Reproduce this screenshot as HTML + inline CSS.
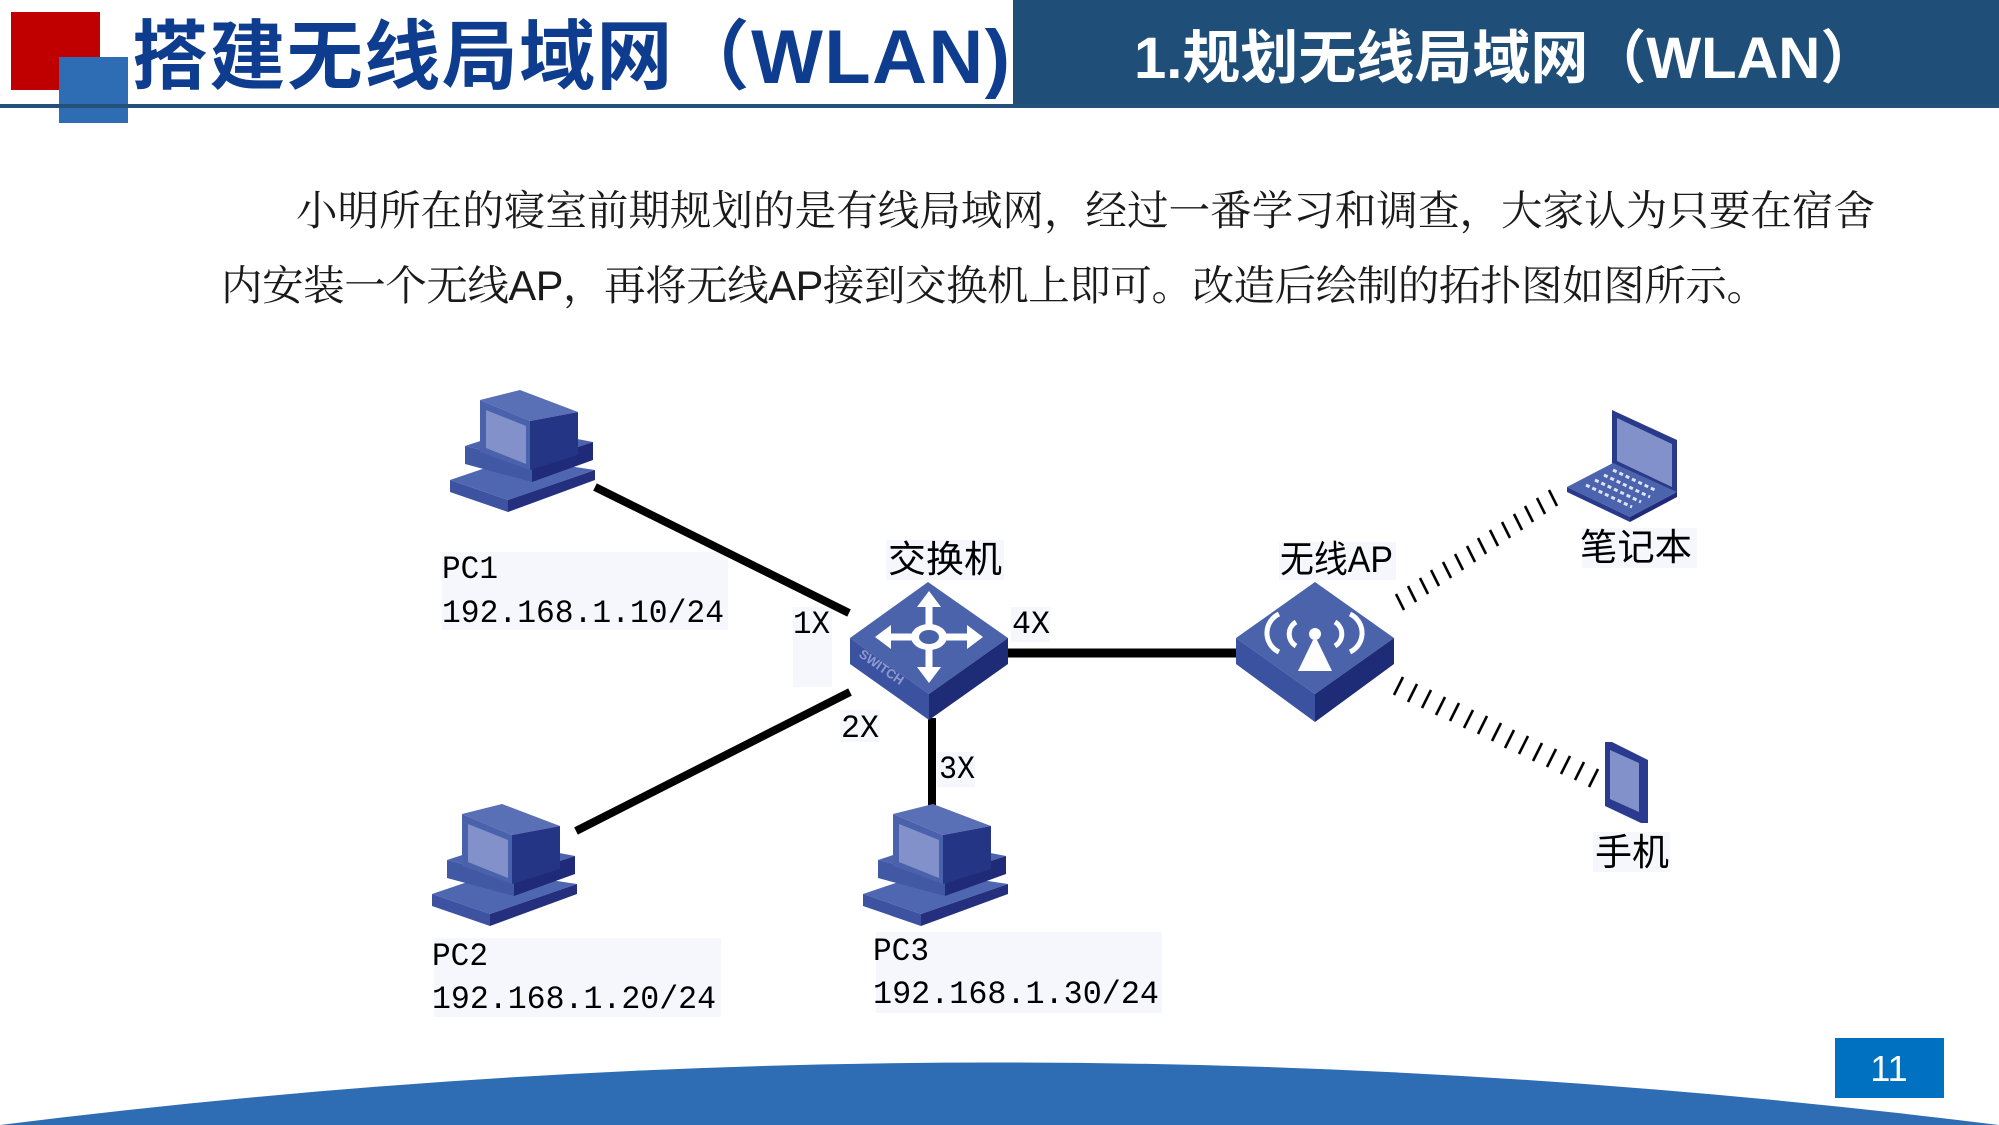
<!DOCTYPE html>
<html>
<head>
<meta charset="utf-8">
<style>
html,body{margin:0;padding:0;background:#fff;}
svg{display:block;}
</style>
</head>
<body>
<svg width="1999" height="1125" viewBox="0 0 1999 1125" xmlns="http://www.w3.org/2000/svg">
<defs>
  <g id="pc">
    <polygon points="0,91 65,69 145,81 58,111" fill="#4F67B0"/>
    <polygon points="0,91 58,111 58,123 0,103" fill="#3D52A0"/>
    <polygon points="58,111 145,81 145,91 58,123" fill="#24307E"/>
    <polygon points="15,57 70,39 143,53 82,73" fill="#4C64AE"/>
    <polygon points="15,57 82,73 82,93 15,75" fill="#4158A5"/>
    <polygon points="82,73 143,53 143,71 82,93" fill="#1F2A78"/>
    <polygon points="30,11 70,1 128,23 80,32" fill="#5A70B6"/>
    <polygon points="30,11 80,32 80,81 30,63" fill="#4A62AC"/>
    <polygon points="36,21 76,37 76,75 36,59" fill="#8391CA"/>
    <polygon points="80,32 128,23 128,66 80,81" fill="#253585"/>
  </g>
</defs>

<rect width="1999" height="1125" fill="#ffffff"/>

<rect x="1013" y="0" width="986" height="106" fill="#1F4E79"/>
<rect x="11" y="12" width="89" height="78" fill="#C00000"/>
<rect x="59" y="57" width="69" height="66" fill="#2E6DB4"/>
<rect x="0" y="104" width="1999" height="4" fill="#24507A"/>

<text x="132" y="83" font-family="'Liberation Sans','Noto Sans CJK SC',sans-serif" font-weight="700" font-size="76" fill="#0E3C8E" textLength="878" lengthAdjust="spacing">搭建无线局域网（WLAN)</text>
<text x="1134" y="78" font-family="'Liberation Sans','Noto Sans CJK SC',sans-serif" font-weight="700" font-size="58" fill="#ffffff">1.规划无线局域网（WLAN）</text>

<text x="296" y="225" font-family="'Liberation Sans','Noto Serif CJK SC',serif" font-size="41.5" fill="#1a1a1a" textLength="1579" lengthAdjust="spacing">小明所在的寝室前期规划的是有线局域网，经过一番学习和调查，大家认为只要在宿舍</text>
<text x="221" y="300" font-family="'Liberation Sans','Noto Serif CJK SC',serif" font-size="41.5" fill="#1a1a1a" textLength="1547" lengthAdjust="spacing">内安装一个无线AP，再将无线AP接到交换机上即可。改造后绘制的拓扑图如图所示。</text>

<g fill="#F5F7FD">
  <rect x="442" y="552" width="286" height="78"/>
  <rect x="434" y="938" width="287" height="79"/>
  <rect x="876" y="932" width="286" height="81"/>
  <rect x="793" y="607" width="39" height="80"/>
  <rect x="840" y="710" width="40" height="32"/>
  <rect x="937" y="752" width="38" height="35"/>
  <rect x="1011" y="607" width="39" height="35"/>
  <rect x="886" y="540" width="118" height="40"/>
  <rect x="1279" y="542" width="117" height="38"/>
  <rect x="1582" y="528" width="115" height="40"/>
  <rect x="1593" y="832" width="77" height="40"/>
</g>

<g stroke="#000" stroke-linecap="butt">
  <line x1="595" y1="487" x2="849" y2="613" stroke-width="8"/>
  <line x1="576" y1="831" x2="850" y2="692" stroke-width="8"/>
  <line x1="932" y1="718" x2="932" y2="808" stroke-width="8"/>
  <line x1="1006" y1="653" x2="1237" y2="653" stroke-width="9"/>
</g>

<use href="#pc" transform="translate(450,389)"/>
<use href="#pc" transform="translate(432,803)"/>
<use href="#pc" transform="translate(863,803)"/>

<g>
  <polygon points="928,582 850,638 929,694 1008,638" fill="#4A63AA"/>
  <polygon points="850,638 929,694 929,720 850,664" fill="#3B52A0"/>
  <polygon points="929,694 1008,638 1008,664 929,720" fill="#1E2B76"/>
  <g stroke="#ffffff" stroke-width="7">
    <line x1="884" y1="637" x2="974" y2="637"/>
    <line x1="929" y1="600" x2="929" y2="674"/>
  </g>
  <g fill="#ffffff">
    <polygon points="917,607 929,591 941,607"/>
    <polygon points="917,667 929,683 941,667"/>
    <polygon points="891,625 875,637 891,649"/>
    <polygon points="967,625 983,637 967,649"/>
    <ellipse cx="929" cy="637" rx="18" ry="13"/>
  </g>
  <ellipse cx="929" cy="637" rx="10" ry="7" fill="#4862AA"/>
  <text x="0" y="0" transform="translate(858,656) rotate(35)" font-family="'Liberation Sans',sans-serif" font-weight="700" font-size="13" fill="#8E9BD0">SWITCH</text>
</g>

<g>
  <polygon points="1315,582 1236,638 1315,694 1394,638" fill="#4A63AA"/>
  <polygon points="1236,638 1315,694 1315,722 1236,664" fill="#3B52A0"/>
  <polygon points="1315,694 1394,638 1394,664 1315,722" fill="#1E2B76"/>
  <g fill="none" stroke="#ffffff" stroke-width="5">
    <path d="M1279,614 A21,21 0 0 0 1279,652"/>
    <path d="M1296,622 A14,14 0 0 0 1296,646"/>
    <path d="M1335,622 A14,14 0 0 1 1335,646"/>
    <path d="M1350,614 A21,21 0 0 1 1350,652"/>
  </g>
  <circle cx="1315" cy="634" r="6" fill="#ffffff"/>
  <polygon points="1298,671 1313,640 1317,640 1332,671" fill="#ffffff"/>
</g>

<g stroke="#000" stroke-width="2.6">
  <line x1="1396" y1="594" x2="1404" y2="610"/>
  <line x1="1408" y1="586" x2="1416" y2="602"/>
  <line x1="1420" y1="578" x2="1428" y2="594"/>
  <line x1="1431" y1="570" x2="1439" y2="586"/>
  <line x1="1443" y1="562" x2="1451" y2="578"/>
  <line x1="1455" y1="554" x2="1463" y2="570"/>
  <line x1="1467" y1="546" x2="1475" y2="562"/>
  <line x1="1478" y1="538" x2="1486" y2="554"/>
  <line x1="1490" y1="530" x2="1498" y2="546"/>
  <line x1="1502" y1="522" x2="1510" y2="538"/>
  <line x1="1514" y1="514" x2="1522" y2="530"/>
  <line x1="1525" y1="506" x2="1533" y2="522"/>
  <line x1="1537" y1="498" x2="1545" y2="514"/>
  <line x1="1549" y1="490" x2="1557" y2="506"/>
</g>

<g stroke="#000" stroke-width="2.6">
  <line x1="1403" y1="677" x2="1394" y2="695"/>
  <line x1="1417" y1="684" x2="1408" y2="702"/>
  <line x1="1431" y1="690" x2="1422" y2="708"/>
  <line x1="1445" y1="697" x2="1436" y2="715"/>
  <line x1="1459" y1="703" x2="1450" y2="721"/>
  <line x1="1473" y1="710" x2="1464" y2="728"/>
  <line x1="1487" y1="716" x2="1478" y2="734"/>
  <line x1="1501" y1="723" x2="1492" y2="741"/>
  <line x1="1514" y1="730" x2="1505" y2="748"/>
  <line x1="1528" y1="736" x2="1519" y2="754"/>
  <line x1="1542" y1="743" x2="1533" y2="761"/>
  <line x1="1556" y1="749" x2="1547" y2="767"/>
  <line x1="1570" y1="756" x2="1561" y2="774"/>
  <line x1="1584" y1="762" x2="1575" y2="780"/>
  <line x1="1598" y1="769" x2="1589" y2="787"/>
</g>

<g>
  <polygon points="1612,410 1677,440 1677,494 1612,464" fill="#2A3A8A"/>
  <polygon points="1617,418 1672,444 1672,487 1617,461" fill="#8391CA"/>
  <polygon points="1567,487 1613,463 1677,492 1630,517" fill="#4C64AE"/>
  <polygon points="1567,487 1630,517 1630,522 1567,492" fill="#2A3A8A"/>
  <polygon points="1630,517 1677,492 1677,497 1630,522" fill="#1F2A78"/>
  <g stroke="#DDE2F5" stroke-width="3" stroke-dasharray="4 3">
    <line x1="1586" y1="485" x2="1632" y2="507"/>
    <line x1="1595" y1="480" x2="1641" y2="502"/>
    <line x1="1604" y1="475" x2="1650" y2="497"/>
    <line x1="1613" y1="470" x2="1657" y2="491"/>
  </g>
</g>

<g>
  <polygon points="1605,742 1612,742 1648,760 1648,823 1641,823 1605,806" fill="#2A3A8E"/>
  <polygon points="1610,750 1639,763 1639,812 1610,799" fill="#8391CA"/>
</g>

<g font-family="'Liberation Mono',monospace" font-size="32" fill="#000">
  <text x="442" y="578" textLength="56" lengthAdjust="spacingAndGlyphs">PC1</text>
  <text x="442" y="622" textLength="282" lengthAdjust="spacingAndGlyphs">192.168.1.10/24</text>
  <text x="432" y="965" textLength="56" lengthAdjust="spacingAndGlyphs">PC2</text>
  <text x="432" y="1008" textLength="284" lengthAdjust="spacingAndGlyphs">192.168.1.20/24</text>
  <text x="873" y="960" textLength="56" lengthAdjust="spacingAndGlyphs">PC3</text>
  <text x="873" y="1003" textLength="286" lengthAdjust="spacingAndGlyphs">192.168.1.30/24</text>
  <text x="793" y="633" textLength="37" lengthAdjust="spacingAndGlyphs">1X</text>
  <text x="841" y="737" textLength="38" lengthAdjust="spacingAndGlyphs">2X</text>
  <text x="939" y="778" textLength="36" lengthAdjust="spacingAndGlyphs">3X</text>
  <text x="1012" y="633" textLength="38" lengthAdjust="spacingAndGlyphs">4X</text>
</g>
<g font-family="'Liberation Sans','Noto Sans CJK SC',sans-serif" font-size="37" fill="#000">
  <text x="888" y="572" textLength="114" lengthAdjust="spacingAndGlyphs">交换机</text>
  <text x="1280" y="572" textLength="113" lengthAdjust="spacingAndGlyphs">无线AP</text>
  <text x="1580" y="560" textLength="112" lengthAdjust="spacingAndGlyphs">笔记本</text>
  <text x="1595" y="865" textLength="74" lengthAdjust="spacingAndGlyphs">手机</text>
</g>

<path d="M0,1125 Q997,1000 1999,1125 Z" fill="#2E6DB4"/>

<rect x="1835" y="1038" width="109" height="60" fill="#0070C0"/>
<text x="1889" y="1081" text-anchor="middle" font-family="'Liberation Sans',sans-serif" font-size="36" fill="#ffffff">11</text>
</svg>
</body>
</html>
